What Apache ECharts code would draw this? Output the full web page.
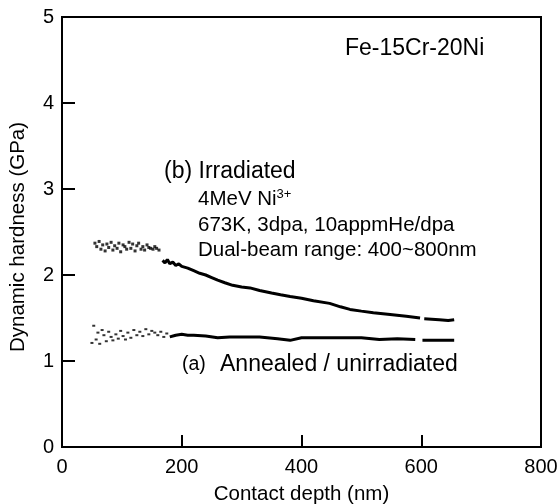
<!DOCTYPE html>
<html><head><meta charset="utf-8">
<script src="https://cdn.jsdelivr.net/npm/echarts@6/dist/echarts.min.js"></script>
<style>html,body{margin:0;padding:0;background:#fff}#c{width:559px;height:504px}</style>
</head><body><div id="c"></div>
<script>
// Irradiated: noisy early part (depth nm, hardness GPa)
const irrNoisyX = [55,58,62,65,68,72,75,78,82,85,88,92,95,98,102,105,108,112,115,118,122,125,128,132,135,138,142,145,148,152,155,158,162];
const irrNoisyY = [2.37,2.33,2.39,2.30,2.35,2.28,2.36,2.32,2.38,2.29,2.34,2.31,2.37,2.27,2.35,2.33,2.30,2.38,2.31,2.36,2.28,2.34,2.37,2.30,2.33,2.29,2.35,2.32,2.31,2.30,2.33,2.31,2.29];
// Irradiated: continuous part
const irrX = [168,172,176,180,185,190,195,200,210,220,230,240,250,260,272,285,300,314,330,350,365,381,400,420,447,465,481,500,520,548,575,598,600,605,630,645,655];
const irrY = [2.17,2.14,2.18,2.13,2.15,2.11,2.13,2.10,2.08,2.05,2.02,2.00,1.97,1.94,1.91,1.88,1.86,1.85,1.82,1.79,1.77,1.75,1.73,1.70,1.67,1.63,1.60,1.58,1.56,1.54,1.52,1.50,null,1.49,1.48,1.47,1.48];
// Annealed: noisy early part
const annNoisyX = [50,53,57,60,63,67,70,74,78,82,85,90,94,98,102,106,110,115,120,125,130,135,140,145,150,155,160,165,170,175];
const annNoisyY = [1.21,1.41,1.25,1.33,1.20,1.36,1.30,1.23,1.34,1.28,1.24,1.31,1.26,1.35,1.29,1.25,1.33,1.27,1.36,1.30,1.34,1.29,1.37,1.31,1.35,1.33,1.30,1.34,1.28,1.32];
// Annealed: continuous part
const annX = [180,190,200,210,220,240,260,280,300,330,360,381,400,430,460,500,530,560,590,596,602,630,655];
const annY = [1.28,1.30,1.31,1.30,1.30,1.29,1.27,1.28,1.28,1.28,1.26,1.24,1.27,1.27,1.27,1.27,1.25,1.26,1.25,null,1.24,1.24,1.24];

const xTicks = [0,200,400,600,800];
const yTicks = [0,1,2,3,4,5];

const zip = (a,b) => a.map((v,i)=>[v,b[i]]);
const F = 'Liberation Sans, Arial, sans-serif';
const chart = echarts.init(document.getElementById('c'));
const axisLine = {show:true, lineStyle:{color:'#000', width:2}};
chart.setOption({
  animation:false,
  grid:{left:62, right:18, top:17, bottom:57, show:true, borderColor:'#000', borderWidth:2, containLabel:false, outerBoundsMode:'none'},
  xAxis:{type:'value', min:xTicks[0], max:xTicks[xTicks.length-1], interval:200,
    axisLine:axisLine, axisTick:{show:true, inside:true, length:12, lineStyle:{color:'#000',width:2}},
    axisLabel:{color:'#000', fontSize:20, fontFamily:F, margin:10, showMinLabel:true, showMaxLabel:true},
    splitLine:{show:false},
    name:'Contact depth (nm)', nameLocation:'middle', nameGap:37,
    nameTextStyle:{color:'#000', fontSize:20.5, fontFamily:F}},
  yAxis:{type:'value', min:yTicks[0], max:yTicks[yTicks.length-1], interval:1,
    axisLine:axisLine, axisTick:{show:true, inside:true, length:13, lineStyle:{color:'#000',width:2}},
    axisLabel:{color:'#000', fontSize:20, fontFamily:F, margin:8},
    splitLine:{show:false}},
  series:[
    {type:'scatter', data:zip(irrNoisyX,irrNoisyY), symbol:'rect', symbolSize:[3,3], itemStyle:{color:'#000'}},
    {type:'line', data:zip(irrX,irrY), showSymbol:false, connectNulls:false, lineStyle:{color:'#000', width:3}},
    {type:'scatter', data:zip(annNoisyX,annNoisyY), symbol:'rect', symbolSize:[3,2], itemStyle:{color:'#000'}},
    {type:'line', data:zip(annX,annY), showSymbol:false, connectNulls:false, lineStyle:{color:'#000', width:3}}
  ],
  graphic:[
    {type:'text', x:18, y:237, rotation:Math.PI/2, style:{text:'Dynamic hardness (GPa)', font:'20.5px '+F, fill:'#000', align:'center', verticalAlign:'middle'}},
    {type:'text', left:345, top:37, style:{text:'Fe-15Cr-20Ni', font:'23px '+F, fill:'#000'}},
    {type:'text', left:164, top:160, style:{text:'(b) Irradiated', font:'23px '+F, fill:'#000'}},
    {type:'text', left:198, top:188, style:{rich:{n:{fontSize:20.5,fontFamily:F,fill:'#000'},s:{fontSize:13,fontFamily:F,fill:'#000',verticalAlign:'top',padding:[0,0,10,0]}}, text:'{n|4MeV Ni}{s|3+}'}},
    {type:'text', left:198, top:215, style:{text:'673K, 3dpa, 10appmHe/dpa', font:'20.5px '+F, fill:'#000'}},
    {type:'text', left:198, top:240, style:{text:'Dual-beam range: 400~800nm', font:'20.5px '+F, fill:'#000'}},
    {type:'text', left:182, top:355, style:{text:'(a)', font:'19.5px '+F, fill:'#000'}},
    {type:'text', left:220, top:353, style:{text:'Annealed / unirradiated', font:'23px '+F, fill:'#000'}}
  ]
});
</script></body></html>
